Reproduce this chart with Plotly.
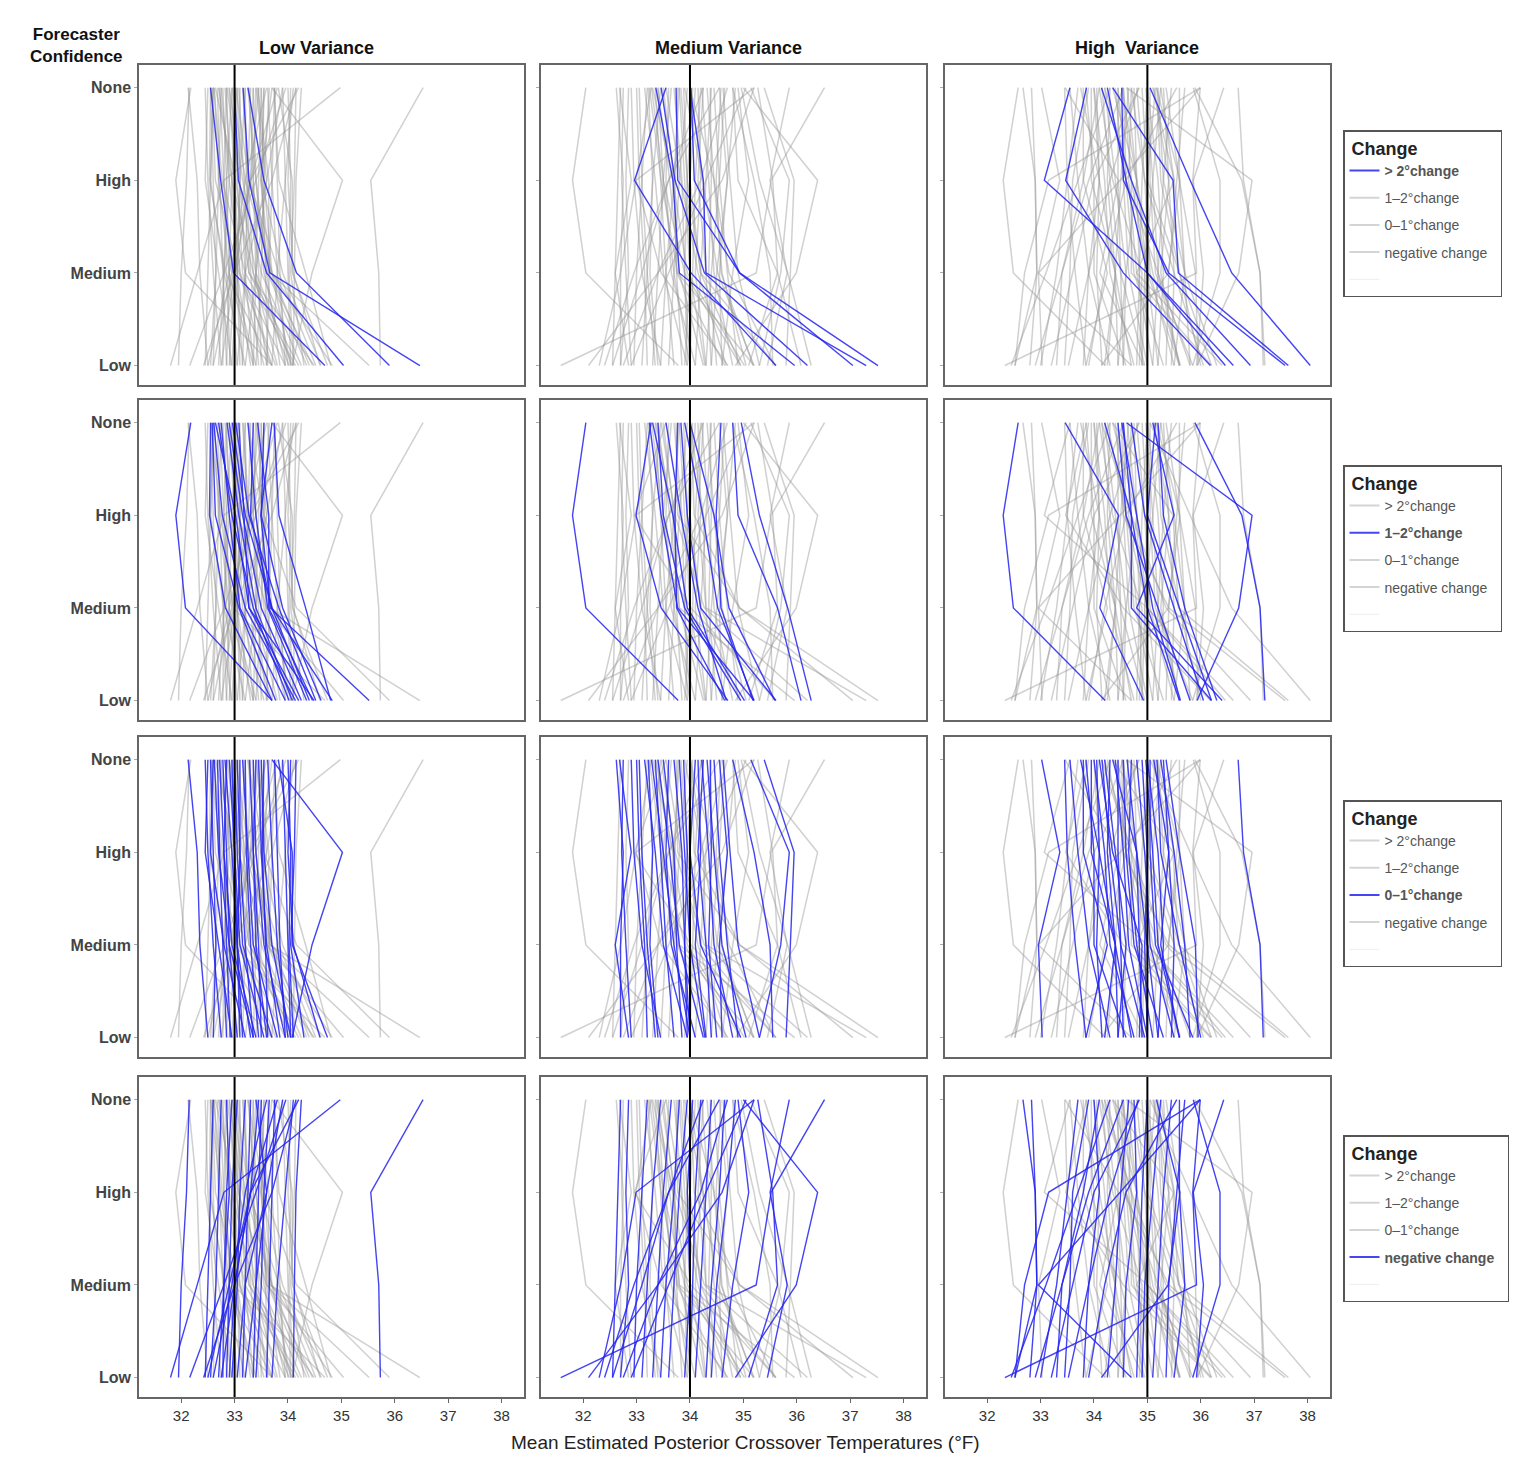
import plotly.graph_objects as go

# page size; the browser adds an 8px body margin round the figure
PAGE_W, PAGE_H = 1535, 1480
OFF = 8
W, H = PAGE_W - 2 * OFF, PAGE_H - 2 * OFF

levels = ["None", "High", "Medium", "Low"]
level_y = [3, 2, 1, 0]
x_ticks = [32, 33, 34, 35, 36, 37, 38]
col_titles = ["Low Variance", "Medium Variance", "High\u00a0 Variance"]
ref_temps = [33, 34, 35]
change_names = ["> 2°change", "1–2°change", "0–1°change", "negative change"]

# each line = one participant: estimate at [None, High, Medium, Low] confidence
# ---- Low variance ----
lv_gt2 = [
    [32.55, 32.74, 32.98, 34.69], [33.00, 33.07, 33.60, 35.04],
    [33.16, 33.27, 33.66, 36.47], [33.25, 33.55, 34.16, 35.90],
]
lv_1to2 = [
    [32.18, 31.90, 32.08, 33.70], [32.55, 32.53, 32.83, 33.70], [32.58, 32.64, 33.08, 33.77],
    [32.61, 32.77, 33.20, 34.14], [32.64, 33.02, 33.27, 34.49], [32.70, 32.95, 33.35, 34.02],
    [32.86, 33.08, 33.40, 34.08], [32.96, 33.20, 33.70, 34.83], [33.02, 33.27, 33.83, 34.52],
    [33.08, 33.17, 33.27, 34.20], [33.25, 33.40, 33.62, 34.35], [33.43, 33.64, 33.64, 34.46],
    [33.55, 33.50, 33.90, 34.62], [33.70, 33.49, 33.67, 35.52], [33.74, 33.83, 34.33, 34.80],
    [32.75, 32.90, 33.10, 33.95], [32.90, 33.15, 33.50, 34.25], [33.35, 33.30, 33.70, 34.40],
]
lv_0to1 = [
    [32.13, 32.30, 32.35, 32.50], [32.45, 32.50, 32.60, 32.75], [32.50, 32.45, 32.70, 32.95],
    [32.55, 32.60, 32.65, 32.60], [32.60, 32.55, 32.80, 33.20], [32.62, 32.70, 32.90, 33.35],
    [32.68, 32.72, 32.78, 32.85], [32.72, 32.80, 32.95, 33.40], [32.78, 32.85, 32.90, 33.05],
    [32.82, 32.95, 33.05, 33.30], [32.85, 32.80, 32.85, 32.92], [32.90, 33.00, 33.10, 33.55],
    [32.95, 33.00, 33.05, 33.10], [33.00, 33.05, 33.15, 33.70], [33.05, 33.10, 33.20, 33.35],
    [33.10, 33.10, 33.05, 33.15], [33.15, 33.25, 33.35, 33.80], [33.20, 33.22, 33.30, 33.45],
    [33.28, 33.35, 33.40, 33.60], [33.35, 33.40, 33.55, 33.95], [33.40, 33.35, 33.45, 33.50],
    [33.45, 33.50, 33.60, 33.85], [33.50, 33.55, 33.70, 34.05], [33.55, 33.52, 33.58, 33.62],
    [33.62, 33.70, 33.80, 34.00], [33.70, 35.02, 34.45, 34.08], [33.75, 33.80, 33.85, 33.95],
    [33.82, 34.08, 34.08, 34.74], [33.90, 33.95, 34.00, 34.05], [34.00, 34.05, 34.02, 34.10],
    [34.05, 34.00, 34.10, 34.60], [34.15, 34.12, 34.05, 34.30],
]
lv_neg = [
    [36.53, 35.55, 35.70, 35.73], [34.98, 32.80, 32.30, 31.80], [32.15, 32.10, 32.00, 31.95],
    [33.96, 33.40, 32.80, 32.16], [34.15, 33.70, 33.00, 32.42], [33.80, 33.30, 32.90, 32.50],
    [34.25, 34.15, 34.12, 34.10], [33.60, 33.20, 32.95, 32.60], [33.45, 33.30, 33.00, 32.75],
    [33.90, 33.60, 33.40, 33.20], [32.60, 32.55, 32.50, 32.45], [32.75, 32.70, 32.65, 32.55],
    [32.85, 32.90, 32.80, 32.70], [33.05, 32.95, 32.90, 32.85], [33.20, 33.10, 33.05, 32.95],
    [33.30, 33.25, 33.20, 33.15], [33.50, 33.45, 33.40, 33.35], [33.65, 33.55, 33.50, 33.40],
    [33.75, 33.70, 33.65, 33.60], [34.10, 33.95, 33.80, 33.70], [34.20, 33.30, 33.00, 32.90],
    [32.95, 32.85, 32.80, 32.78], [33.40, 33.60, 33.20, 33.05],
]

# ---- Medium variance ----
mv_gt2 = [
    [33.55, 32.96, 34.02, 35.61], [33.36, 33.68, 33.80, 35.96], [33.46, 33.72, 34.27, 36.20],
    [33.74, 33.77, 34.93, 37.05], [34.02, 34.08, 34.93, 37.52], [34.00, 34.25, 34.30, 37.30],
]
mv_1to2 = [
    [32.05, 31.80, 32.05, 33.78], [33.27, 32.99, 33.46, 34.71], [33.24, 33.46, 33.77, 35.20],
    [33.30, 33.68, 33.95, 35.02], [33.55, 33.83, 34.15, 34.68], [33.77, 33.72, 33.75, 34.65],
    [33.83, 33.95, 34.20, 35.61], [33.90, 34.24, 34.52, 35.20], [34.58, 34.49, 34.58, 35.18],
    [34.80, 34.90, 35.64, 36.08], [34.96, 35.30, 35.83, 36.27], [34.00, 34.45, 34.73, 35.59],
    [33.40, 33.50, 33.90, 34.95],
]
mv_0to1 = [
    [32.62, 32.75, 32.70, 32.70], [32.68, 32.90, 32.60, 32.85], [32.75, 32.72, 32.80, 32.90],
    [32.90, 32.95, 33.10, 33.45], [33.05, 33.10, 33.20, 33.35], [33.15, 33.35, 33.50, 33.95],
    [33.22, 33.30, 33.25, 33.40], [33.28, 33.50, 33.70, 34.00], [33.35, 33.45, 33.55, 33.70],
    [33.40, 33.62, 33.80, 34.25], [33.50, 33.70, 33.75, 33.85], [33.60, 33.55, 33.65, 34.10],
    [33.70, 33.85, 33.90, 33.95], [33.80, 33.90, 34.00, 34.28], [33.88, 33.95, 33.90, 34.00],
    [34.15, 34.20, 34.10, 34.30], [34.22, 34.35, 34.45, 34.80], [34.25, 34.15, 34.30, 34.40],
    [34.32, 34.45, 34.60, 35.05], [34.38, 34.40, 34.35, 34.50], [34.45, 34.55, 34.70, 34.90],
    [34.55, 34.70, 34.55, 34.60], [34.62, 34.75, 34.90, 35.30], [34.80, 35.20, 35.50, 35.55],
    [35.14, 35.86, 35.70, 35.30], [35.39, 35.95, 35.88, 35.80], [34.10, 34.00, 34.20, 34.95],
    [33.00, 33.05, 33.15, 33.20],
]
mv_neg = [
    [36.52, 35.52, 35.24, 31.58], [35.00, 36.39, 35.99, 34.85], [35.86, 35.50, 35.82, 35.45],
    [35.27, 35.55, 35.64, 35.10], [35.20, 32.99, 32.70, 32.30], [35.20, 34.60, 33.40, 32.10],
    [34.55, 33.60, 32.95, 32.40], [34.25, 33.60, 33.10, 32.55], [35.05, 34.30, 33.60, 32.90],
    [34.70, 34.20, 33.40, 32.75], [32.70, 32.65, 32.60, 32.55], [32.85, 32.80, 32.85, 32.70],
    [33.20, 33.10, 33.00, 32.95], [33.45, 33.30, 33.20, 33.10], [33.65, 33.50, 33.40, 33.30],
    [33.95, 33.80, 33.70, 33.60], [34.05, 33.95, 34.00, 33.90], [34.20, 34.10, 34.05, 34.00],
    [34.40, 34.30, 34.20, 34.10], [34.65, 34.55, 34.40, 34.30], [34.85, 34.70, 34.50, 34.40],
    [33.80, 33.70, 33.55, 33.45], [34.90, 35.10, 34.80, 34.60],
]

# ---- High variance ----
hv_gt2 = [
    [33.55, 33.07, 35.00, 36.61], [33.86, 33.47, 34.55, 36.18], [34.14, 34.70, 35.35, 36.93],
    [34.25, 34.60, 35.00, 36.46], [34.35, 35.48, 35.58, 37.64], [34.52, 34.55, 35.40, 37.58],
    [35.05, 35.80, 36.58, 38.05],
]
hv_1to2 = [
    [32.58, 32.30, 32.49, 34.21], [33.46, 34.46, 34.11, 34.93], [34.61, 36.96, 36.71, 35.93],
    [35.89, 36.77, 37.11, 37.20], [34.20, 34.70, 35.00, 35.60], [34.45, 34.60, 35.20, 35.80],
    [34.55, 34.70, 34.70, 36.20], [35.10, 35.50, 34.80, 36.40], [35.20, 35.30, 35.70, 36.30],
    [35.15, 35.00, 35.60, 36.20], [34.70, 34.95, 35.50, 36.05], [34.52, 34.80, 35.10, 35.62],
]
hv_0to1 = [
    [36.70, 36.80, 37.11, 37.17], [33.02, 33.36, 32.96, 33.03], [33.45, 33.50, 33.65, 33.85],
    [33.55, 33.70, 33.90, 34.30], [33.80, 33.80, 34.25, 33.85], [33.85, 34.00, 34.00, 34.60],
    [33.95, 33.95, 34.40, 34.20], [34.00, 34.20, 34.30, 34.75], [34.05, 34.10, 34.05, 34.15],
    [34.15, 34.30, 34.50, 34.95], [34.20, 34.40, 34.60, 34.45], [34.30, 34.25, 34.40, 34.70],
    [34.40, 34.55, 34.65, 35.00], [34.45, 34.45, 34.50, 34.55], [34.55, 34.60, 34.75, 35.30],
    [34.62, 34.80, 34.85, 34.90], [34.70, 34.65, 34.80, 35.10], [34.80, 34.95, 35.05, 35.50],
    [34.90, 35.00, 34.95, 35.00], [34.97, 35.10, 35.20, 35.60], [35.00, 35.20, 35.30, 35.20],
    [35.05, 35.05, 35.15, 35.85], [35.12, 35.40, 35.50, 35.45], [35.18, 35.25, 35.60, 36.00],
    [35.25, 35.50, 35.70, 35.80], [35.30, 35.40, 35.25, 35.60], [34.10, 34.35, 34.90, 34.85],
    [34.35, 34.80, 35.00, 35.20], [35.35, 35.60, 35.90, 35.95], [33.75, 34.10, 34.40, 34.45],
]
hv_neg = [
    [35.99, 33.15, 32.70, 32.52], [35.99, 35.85, 35.92, 32.33], [35.99, 34.49, 32.96, 34.70],
    [36.43, 35.86, 36.05, 35.92], [35.86, 36.36, 36.36, 35.85], [35.17, 35.61, 35.39, 34.14],
    [32.67, 32.90, 32.93, 32.52], [32.83, 32.90, 32.93, 32.80], [34.30, 33.70, 33.10, 32.45],
    [34.55, 33.90, 33.40, 32.90], [34.85, 34.00, 33.60, 33.20], [34.83, 34.30, 33.90, 33.52],
    [34.10, 33.80, 33.40, 33.30], [33.90, 33.60, 33.55, 33.45], [34.00, 34.10, 33.90, 33.80],
    [34.65, 34.50, 34.40, 34.25], [34.75, 34.80, 34.60, 34.55], [35.00, 34.90, 34.85, 34.80],
    [35.25, 35.10, 34.95, 34.90], [35.45, 35.30, 35.20, 35.10], [35.70, 35.55, 35.40, 35.35],
    [35.55, 34.60, 34.20, 33.90], [35.60, 35.60, 35.70, 35.50], [33.70, 33.50, 33.30, 33.00],
]

columns = [
    [lv_gt2, lv_1to2, lv_0to1, lv_neg],
    [mv_gt2, mv_1to2, mv_0to1, mv_neg],
    [hv_gt2, hv_1to2, hv_0to1, hv_neg],
]

FONT = "Liberation Sans, Arial, sans-serif"
GREY = "rgba(150,150,150,0.45)"
BLUE = "rgba(35,35,240,0.85)"

# panel boxes in page pixels
cols_px = [(139, 524), (541, 926), (945, 1330)]
rows_px = [(65, 385), (400, 720), (737, 1057), (1077, 1397)]
legend_top = [130, 465, 800, 1135]


def px_x(px):
    return (px - OFF) / W


def px_y(py):
    return 1 - (py - OFF) / H


def line_xy(lines):
    xs, ys = [], []
    for ln in lines:
        xs += list(ln) + [None]
        ys += level_y + [None]
    return xs, ys


fig = go.Figure()
layout = {}
shapes = []

for r in range(4):
    for c in range(3):
        k = r * 3 + c + 1
        sx = "" if k == 1 else str(k)
        groups = columns[c]
        grey_lines = [ln for g, grp in enumerate(groups) if g != r for ln in grp]
        gx, gy = line_xy(grey_lines)
        bx, by = line_xy(groups[r])
        fig.add_trace(go.Scatter(x=gx, y=gy, mode="lines", line=dict(color=GREY, width=1.5),
                                 xaxis="x" + sx, yaxis="y" + sx, showlegend=False, hoverinfo="skip"))
        fig.add_trace(go.Scatter(x=bx, y=by, mode="lines", line=dict(color=BLUE, width=1.4),
                                 xaxis="x" + sx, yaxis="y" + sx, showlegend=False, hoverinfo="skip"))

        x0, x1 = cols_px[c]
        y0, y1 = rows_px[r]
        bottom = r == 3
        layout["xaxis" + sx] = dict(
            domain=[px_x(x0), px_x(x1)], anchor="y" + sx, range=[31.21, 38.42],
            showline=True, mirror=True, linecolor="#666", linewidth=1.5,
            showgrid=False, zeroline=False,
            tickmode="array", tickvals=x_ticks,
            ticks="outside" if bottom else "", ticklen=4, tickcolor="#666",
            showticklabels=bottom, tickfont=dict(size=15, color="#333", family=FONT),
        )
        layout["yaxis" + sx] = dict(
            domain=[px_y(y1), px_y(y0)], anchor="x" + sx, range=[-0.21, 3.245],
            showline=True, mirror=True, linecolor="#666", linewidth=1.5,
            showgrid=False, zeroline=False,
            tickmode="array", tickvals=level_y,
            ticktext=["<b>%s</b>" % s for s in levels],
            ticks="outside", ticklen=3, tickcolor="#aaa",
            showticklabels=(c == 0), tickfont=dict(size=16, color="#444", family=FONT),
        )
        shapes.append(dict(type="line", xref="x" + sx, yref="y" + sx + " domain",
                           x0=ref_temps[c], x1=ref_temps[c], y0=0, y1=1,
                           line=dict(color="black", width=2)))

# legends, one per row
for r in range(4):
    lname = "legend" if r == 0 else "legend%d" % (r + 1)
    for i, nm in enumerate(change_names):
        on = i == r
        fig.add_trace(go.Scatter(
            x=[None], y=[None], mode="lines",
            line=dict(color="rgba(50,50,240,0.9)" if on else "#d4d4d4", width=2),
            name=("<b>%s</b>" % nm if on else nm) + "\u00a0\u00a0",
            legend=lname, legendgroup="r%d_%d" % (r, i),
            showlegend=True, xaxis="x", yaxis="y",
        ))
    # empty last row, drawn as a faint rule like the original key
    fig.add_trace(go.Scatter(
        x=[None], y=[None], mode="lines", line=dict(color="#eeeeee", width=1),
        name=" ", legend=lname, legendgroup="r%d_pad" % r, showlegend=True,
        xaxis="x", yaxis="y",
    ))
    layout[lname] = dict(
        x=px_x(1343), y=px_y(legend_top[r]), xanchor="left", yanchor="top",
        bgcolor="white", bordercolor="#555", borderwidth=1.5,
        title=dict(text="\u00a0<b>Change</b>", font=dict(size=18, color="#222", family=FONT)),
        font=dict(size=14, color="#555", family=FONT),
        traceorder="grouped", tracegroupgap=6, itemwidth=30,
    )

annotations = []
col_centres = [316, 728, 1137]
for c in range(3):
    annotations.append(dict(text="<b>%s</b>" % col_titles[c], x=px_x(col_centres[c]), y=px_y(48),
                            xref="paper", yref="paper", xanchor="center", yanchor="middle",
                            showarrow=False, font=dict(size=18, color="#111", family=FONT)))
annotations.append(dict(text="<b>Forecaster<br>Confidence</b>", x=px_x(76), y=px_y(45),
                        xref="paper", yref="paper", xanchor="center", yanchor="middle",
                        showarrow=False, align="center",
                        font=dict(size=17, color="#111", family=FONT)))
annotations.append(dict(text="Mean Estimated Posterior Crossover Temperatures (°F)",
                        x=px_x(745), y=px_y(1442), xref="paper", yref="paper",
                        xanchor="center", yanchor="middle", showarrow=False,
                        font=dict(size=19, color="#222", family=FONT)))

fig.update_layout(
    width=W, height=H, margin=dict(l=0, r=0, t=0, b=0),
    paper_bgcolor="white", plot_bgcolor="white",
    font=dict(family=FONT), shapes=shapes, annotations=annotations,
    **layout,
)

fig.write_html("out.html")
